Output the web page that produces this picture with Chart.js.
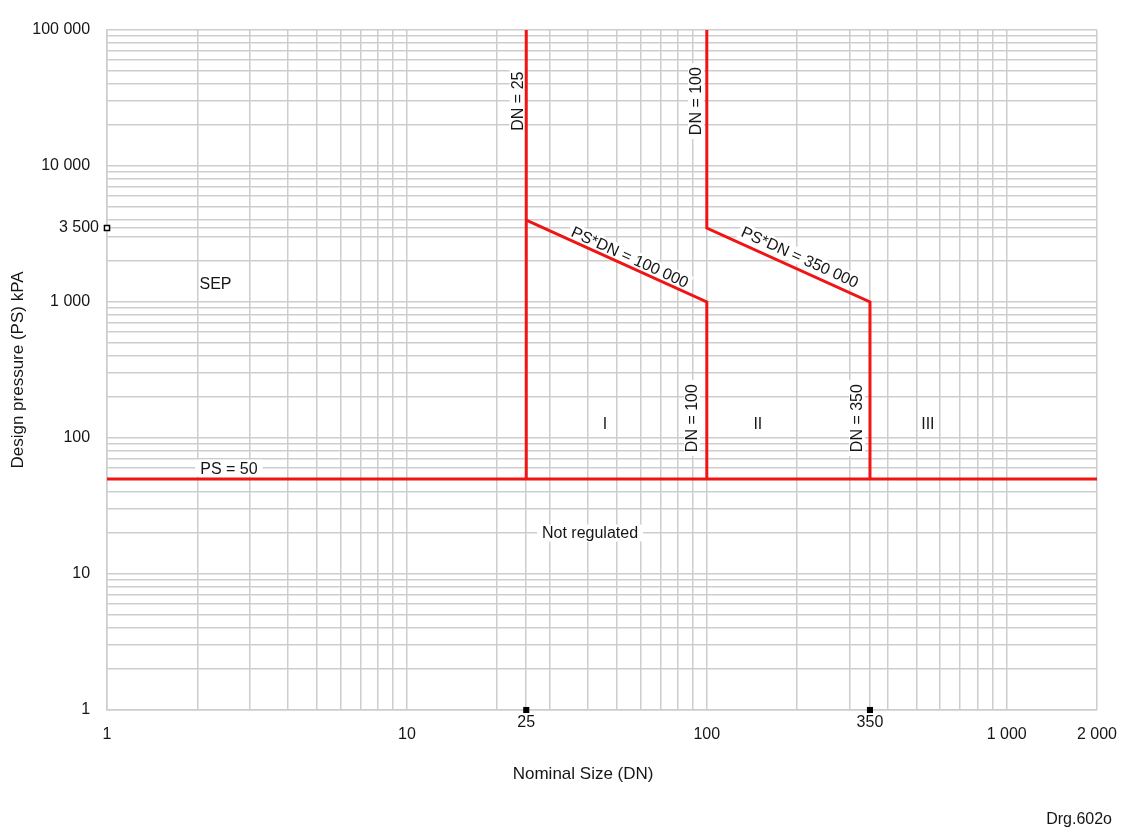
<!DOCTYPE html>
<html>
<head>
<meta charset="utf-8">
<script src="https://cdn.jsdelivr.net/npm/chart.js@4/dist/chart.umd.min.js"></script>
<style>
html,body{margin:0;padding:0;background:#fff;}
#wrap{width:1124px;height:836px;}
</style>
</head>
<body>
<div id="wrap"><canvas id="c" width="1124" height="836"></canvas></div>
<script>
// ---------------- data ----------------
const xTickLabels = [1, 10, 25, 100, 350, 1000, 2000];
const xMarkedTicks = [25, 350];
const yTickLabels = [1, 10, 100, 1000, 3500, 10000, 100000];
const yMarkedTicks = [3500];

// boundary lines: DN (x) and PS (y)
const psLimitDN = [1, 2000];
const psLimitPS = [50, 50];
const boundaryDN25DN = [25, 25];
const boundaryDN25PS = [100000, 50];
const boundaryCatIDN = [25, 100, 100];
const boundaryCatIPS = [4000, 1000, 50];
const boundaryCatIIDN = [100, 100, 350, 350];
const boundaryCatIIPS = [100000, 3500, 1000, 50];

// axis markers
const markerDN = [25, 350];
const markerPS = [1, 1];
const hollowMarkerDN = [1];
const hollowMarkerPS = [3500];

// region labels
const regionTexts = ['SEP', 'I', 'II', 'III'];
const regionDN = [2.3, 45.8, 148, 546];
const regionPS = [1356, 127, 127, 128];

// boxed horizontal labels
const boxedTexts = ['PS = 50', 'Not regulated'];
const boxedDN = [2.55, 40.8];
const boxedPS = [60, 20];

// vertical line labels
const lineTexts = ['DN = 25', 'DN = 100', 'DN = 100', 'DN = 350'];
const lineTextDN = [23.4, 92, 89.3, 316.8];
const lineTextPS = [30000, 30000, 140, 140];

// sloped line labels
const slopeTexts = ['PS*DN = 100 000', 'PS*DN = 350 000'];
const slopeTextDN = [55.4, 204.5];
const slopeTextPS = [2143, 2143];
const slopeFromDN = [25, 100];
const slopeFromPS = [4000, 3500];
const slopeToDN = [100, 350];
const slopeToPS = [1000, 1000];

const drawingRef = 'Drg.602o';
// --------------------------------------

const RED = '#f01414';
const GRID = '#cdcdcd';
const TEXT = '#161616';
const FONT = '"Liberation Sans", Arial, sans-serif';

const fmt = v => String(v).replace(/\B(?=(\d{3})+(?!\d))/g, ' ');
const pts = (xs, ys) => xs.map((v, i) => ({x: v, y: ys[i]}));

function gridValues(maxExp, max, extra) {
  const vals = [];
  for (let k = 0; k <= maxExp; k++) {
    for (let m = 1; m <= 9; m++) {
      const v = m * Math.pow(10, k);
      if (v <= max) vals.push(v);
    }
  }
  extra.forEach(v => vals.push(v));
  return Array.from(new Set(vals)).sort((a, b) => a - b);
}
const xGrid = gridValues(3, 2000, [25, 350, 2000]);
const yGrid = gridValues(5, 100000, [3500]);

const lineDs = (xs, ys) => ({
  data: pts(xs, ys), showLine: true, borderColor: RED, borderWidth: 3,
  pointRadius: 0, fill: false, clip: false, borderJoinStyle: 'miter', borderCapStyle: 'butt'
});

const annotations = {
  id: 'annotations',
  beforeDatasetsDraw(chart) {
    const {ctx, scales: {x, y}} = chart;
    ctx.save();
    ctx.font = '16px ' + FONT;
    ctx.textBaseline = 'middle';
    ctx.textAlign = 'center';
    function put(text, px, py, rot, bg, padX, halfH) {
      ctx.save();
      ctx.translate(px, py);
      ctx.rotate(rot);
      const w = ctx.measureText(text).width;
      if (bg) {
        ctx.fillStyle = '#fff';
        ctx.fillRect(-w / 2 - padX, -halfH, w + 2 * padX, 2 * halfH);
      }
      ctx.fillStyle = TEXT;
      ctx.fillText(text, 0, 1);
      ctx.restore();
    }
    regionTexts.forEach((t, i) => put(t, x.getPixelForValue(regionDN[i]), y.getPixelForValue(regionPS[i]), 0, false, 0, 0));
    boxedTexts.forEach((t, i) => put(t, x.getPixelForValue(boxedDN[i]), y.getPixelForValue(boxedPS[i]), 0, true, 5, 8.5));
    lineTexts.forEach((t, i) => put(t, x.getPixelForValue(lineTextDN[i]), y.getPixelForValue(lineTextPS[i]), -Math.PI / 2, true, 4, 8));
    slopeTexts.forEach((t, i) => {
      const x0 = x.getPixelForValue(slopeFromDN[i]), y0 = y.getPixelForValue(slopeFromPS[i]);
      const x1 = x.getPixelForValue(slopeToDN[i]), y1 = y.getPixelForValue(slopeToPS[i]);
      const a = Math.atan2(y1 - y0, x1 - x0);
      put(t, x.getPixelForValue(slopeTextDN[i]), y.getPixelForValue(slopeTextPS[i]), a, true, 3, 8);
    });
    ctx.restore();
  },
  afterDraw(chart) {
    const {ctx} = chart;
    ctx.save();
    ctx.font = '16px ' + FONT;
    ctx.fillStyle = TEXT;
    ctx.textAlign = 'right';
    ctx.textBaseline = 'middle';
    ctx.fillText(drawingRef, chart.width - 12, 820);
    ctx.restore();
  }
};

new Chart(document.getElementById('c'), {
  type: 'scatter',
  data: {
    datasets: [
      lineDs(psLimitDN, psLimitPS),
      lineDs(boundaryDN25DN, boundaryDN25PS),
      lineDs(boundaryCatIDN, boundaryCatIPS),
      lineDs(boundaryCatIIDN, boundaryCatIIPS),
      {data: pts(markerDN, markerPS), pointStyle: 'rect', pointRadius: 4.3, backgroundColor: '#000', borderWidth: 0, clip: false},
      {data: pts(hollowMarkerDN, hollowMarkerPS), pointStyle: 'rect', pointRadius: 3.6, backgroundColor: '#fff', borderColor: '#000', borderWidth: 1.5, clip: false}
    ]
  },
  options: {
    responsive: false,
    animation: false,
    events: [],
    layout: {padding: {left: 0, top: 30, right: 27, bottom: 0}},
    plugins: {legend: {display: false}, tooltip: {enabled: false}},
    scales: {
      x: {
        type: 'logarithmic', min: 1, max: 2000,
        afterBuildTicks: s => { s.ticks = xGrid.map(v => ({value: v})); },
        afterFit: s => { s.height = 126; },
        grid: {color: GRID, lineWidth: 1.5, drawTicks: false},
        border: {display: true, color: GRID, width: 1.5},
        ticks: {
          autoSkip: false, maxRotation: 0, minRotation: 0, padding: 7, color: TEXT,
          font: {family: FONT, size: 16, lineHeight: 0.75},
          callback: v => xTickLabels.includes(v) ? (xMarkedTicks.includes(v) ? fmt(v) : ['', fmt(v)]) : ''
        },
        title: {
          display: true, text: 'Nominal Size (DN)' + '\u00A0'.repeat(8), color: TEXT,
          font: {family: FONT, size: 17, lineHeight: 1.2}, padding: {top: 0, bottom: 51}
        }
      },
      y: {
        type: 'logarithmic', min: 1, max: 100000,
        afterBuildTicks: s => { s.ticks = yGrid.map(v => ({value: v})); },
        afterFit: s => { s.width = 107; },
        grid: {color: GRID, lineWidth: 1.5, drawTicks: false},
        border: {display: true, color: GRID, width: 1.5},
        ticks: {
          autoSkip: false, padding: 8, color: TEXT,
          font: {family: FONT, size: 16},
          callback: v => yTickLabels.includes(v) ? (yMarkedTicks.includes(v) ? fmt(v) : fmt(v) + '\u00A0\u00A0') : ''
        },
        title: {
          display: true, text: 'Design pressure (PS) kPA', color: TEXT,
          font: {family: FONT, size: 17, lineHeight: 1.2}, padding: {top: 8, bottom: 0}
        }
      }
    }
  },
  plugins: [annotations]
});
</script>
</body>
</html>
